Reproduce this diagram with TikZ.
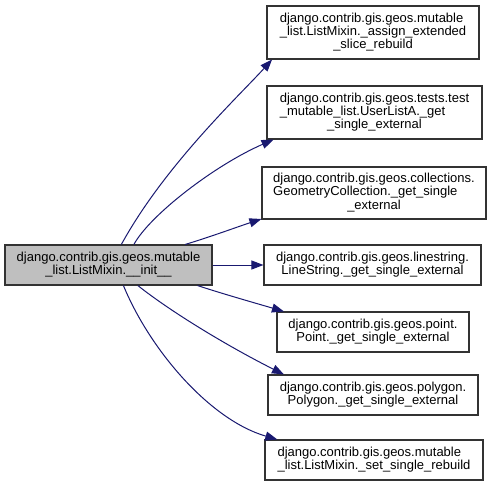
\documentclass[tikz,border=0pt]{standalone}
\usepackage{fontspec}
\setmainfont{Liberation Sans}
\usetikzlibrary{arrows.meta}
\definecolor{edgeblue}{HTML}{191970}
\definecolor{nodegray}{HTML}{BFBFBF}
% label lines: left aligned, last one centred
\newcommand{\lbl}[1]{\begin{tabular}{@{}l@{}}#1\end{tabular}}
\newcommand{\lastrow}[1]{\multicolumn{1}{@{}c@{}}{#1}}
\begin{document}
\begin{tikzpicture}[x=1pt, y=-1pt,
    box/.style={draw=black!80, line width=1.1pt, fill=white, inner sep=0pt,
        font=\fontsize{13}{12.5}\selectfont},
    call/.style={edgeblue, line width=1pt, -{Triangle[length=12pt,width=9pt]}}]
    \useasboundingbox (0,0) rectangle (492,487);
    % Caller
    \node[box, fill=nodegray, minimum width=207, minimum height=40] (init) at (108.5,265)
        {\lbl{django.contrib.gis.geos.mutable\\\lastrow{\_list.ListMixin.\_\_init\_\_}}};
    % Callees
    \node[box, minimum width=212, minimum height=53] (assign) at (373,32.5)
        {\lbl{django.contrib.gis.geos.mutable\\\_list.ListMixin.\_assign\_extended\\\lastrow{\_slice\_rebuild}}};
    \node[box, minimum width=215, minimum height=53] (userlist) at (374.5,112.5)
        {\lbl{django.contrib.gis.geos.tests.test\\\_mutable\_list.UserListA.\_get\\\lastrow{\_single\_external}}};
    \node[box, minimum width=224, minimum height=52] (collection) at (374,193)
        {\lbl{django.contrib.gis.geos.collections.\\GeometryCollection.\_get\_single\\\lastrow{\_external}}};
    \node[box, minimum width=217, minimum height=40] (linestring) at (372.5,265)
        {\lbl{django.contrib.gis.geos.linestring.\\\lastrow{LineString.\_get\_single\_external}}};
    \node[box, minimum width=192, minimum height=40] (point) at (373,332)
        {\lbl{django.contrib.gis.geos.point.\\\lastrow{Point.\_get\_single\_external}}};
    \node[box, minimum width=210, minimum height=40] (polygon) at (373,395)
        {\lbl{django.contrib.gis.geos.polygon.\\\lastrow{Polygon.\_get\_single\_external}}};
    \node[box, minimum width=218, minimum height=40] (setsingle) at (374,460)
        {\lbl{django.contrib.gis.geos.mutable\\\lastrow{\_list.ListMixin.\_set\_single\_rebuild}}};
    % Calls
    \draw[call] (init.58) .. controls (165,165) and (240,95) .. (assign.195);
    \draw[call] (init.39) .. controls (150,215) and (215,165) .. (userlist.195);
    \draw[call] (init.15) .. controls (210,237) and (240,226) .. (collection.193.5);
    \draw[call] (init.east) -- (linestring.west);
    \draw[call] (init.-13.8) .. controls (220,293) and (255,303) .. (point.167.6);
    \draw[call] (init.-35) .. controls (175,315) and (235,350) .. (polygon.167.6);
    \draw[call] (init.-54) .. controls (150,350) and (210,420) .. (setsingle.168);
\end{tikzpicture}
\end{document}
